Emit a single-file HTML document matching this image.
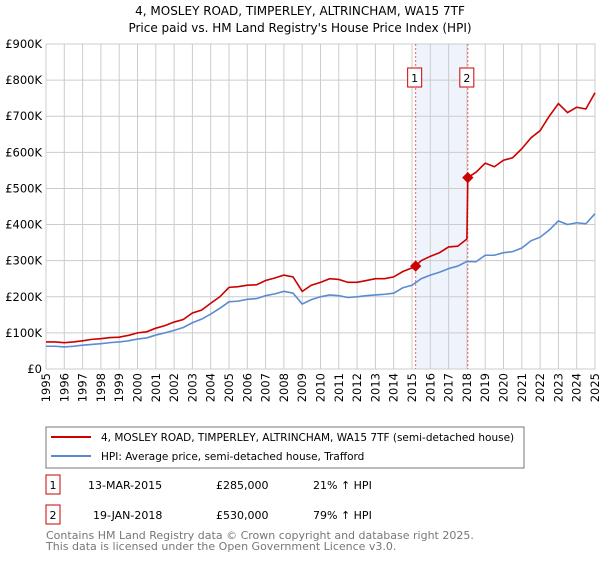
<!DOCTYPE html>
<html><head><meta charset="utf-8"><style>
body{margin:0;background:#fff;font-family:"Liberation Sans","DejaVu Sans",sans-serif;}
svg text{font-family:"DejaVu Sans","Liberation Sans",sans-serif;}
</style></head><body>
<svg id="c" width="600" height="560" xmlns="http://www.w3.org/2000/svg">
<text x="300" y="15" text-anchor="middle" font-size="12">4, MOSLEY ROAD, TIMPERLEY, ALTRINCHAM, WA15 7TF</text>
<text x="300" y="32" text-anchor="middle" font-size="12">Price paid vs. HM Land Registry's House Price Index (HPI)</text>
<g id="grid"></g><g id="marks"></g>
<rect x="46" y="427" width="478" height="41" fill="#fff" stroke="#777"/>
<line x1="51" y1="437" x2="91" y2="437" stroke="#cc0000" stroke-width="2"/>
<text x="101" y="441" font-size="10.5">4, MOSLEY ROAD, TIMPERLEY, ALTRINCHAM, WA15 7TF (semi-detached house)</text>
<line x1="51" y1="456" x2="91" y2="456" stroke="#5b8bd0" stroke-width="2"/>
<text x="101" y="460" font-size="10.5">HPI: Average price, semi-detached house, Trafford</text>
<rect x="46" y="475" width="14" height="19" fill="#fff" stroke="#cc0000"/>
<text x="53" y="489" text-anchor="middle" font-size="11">1</text>
<text x="88" y="489" font-size="11">13-MAR-2015</text>
<text x="216" y="489" font-size="11">£285,000</text>
<text x="313" y="489" font-size="11">21% ↑ HPI</text>
<rect x="46" y="505" width="14" height="19" fill="#fff" stroke="#cc0000"/>
<text x="53" y="519" text-anchor="middle" font-size="11">2</text>
<text x="93" y="519" font-size="11">19-JAN-2018</text>
<text x="216" y="519" font-size="11">£530,000</text>
<text x="313" y="519" font-size="11">79% ↑ HPI</text>
<text x="46" y="539" font-size="11" fill="#777">Contains HM Land Registry data © Crown copyright and database right 2025.</text>
<text x="46" y="550" font-size="11" fill="#777">This data is licensed under the Open Government Licence v3.0.</text>
</svg>
<script>
const yTicks=[0,100,200,300,400,500,600,700,800,900];
const yLabels=["£0","£100K","£200K","£300K","£400K","£500K","£600K","£700K","£800K","£900K"];
const years=[1995,1996,1997,1998,1999,2000,2001,2002,2003,2004,2005,2006,2007,2008,2009,2010,2011,2012,2013,2014,2015,2016,2017,2018,2019,2020,2021,2022,2023,2024,2025];
const hpiT=[1995,1995.5,1996,1996.5,1997,1997.5,1998,1998.5,1999,1999.5,2000,2000.5,2001,2001.5,2002,2002.5,2003,2003.5,2004,2004.5,2005,2005.5,2006,2006.5,2007,2007.5,2008,2008.5,2009,2009.5,2010,2010.5,2011,2011.5,2012,2012.5,2013,2013.5,2014,2014.5,2015,2015.5,2016,2016.5,2017,2017.5,2018,2018.5,2019,2019.5,2020,2020.5,2021,2021.5,2022,2022.5,2023,2023.5,2024,2024.5,2025];
const hpiV=[63,63,61,63,66,68,70,73,75,78,83,86,94,100,107,115,128,138,152,168,186,188,193,195,203,208,215,210,180,192,200,205,203,198,200,203,205,207,210,225,232,250,260,268,278,285,298,297,315,315,322,325,335,355,365,385,410,400,405,402,430];
const priceT=[1995,1995.5,1996,1996.5,1997,1997.5,1998,1998.5,1999,1999.5,2000,2000.5,2001,2001.5,2002,2002.5,2003,2003.5,2004,2004.5,2005,2005.5,2006,2006.5,2007,2007.5,2008,2008.5,2009,2009.5,2010,2010.5,2011,2011.5,2012,2012.5,2013,2013.5,2014,2014.5,2015,2015.2,2015.5,2016,2016.5,2017,2017.5,2018,2018.05,2018.5,2019,2019.5,2020,2020.5,2021,2021.5,2022,2022.5,2023,2023.5,2024,2024.5,2025];
const priceV=[75,75,73,75,78,82,84,87,88,93,100,103,113,120,130,137,155,163,182,200,226,228,232,233,245,252,260,255,215,232,240,250,248,240,240,245,250,250,255,270,280,285,300,312,322,338,340,360,530,545,570,560,578,585,610,640,660,700,735,710,725,720,765];
const saleT=[2015.2,2018.05];
const saleV=[285,530];
const saleLabels=["1","2"];
const L=46,R=595,T=44,B=369;
const x=t=>L+(t-1995)/30*(R-L);
const y=v=>B-v/900*(B-T);
const NS="http://www.w3.org/2000/svg";
const g=document.getElementById('grid'),m=document.getElementById('marks');
function mk(p,tag,a){const e=document.createElementNS(NS,tag);for(const k in a)e.setAttribute(k,a[k]);p.appendChild(e);return e;}
const band=mk(g,'rect',{x:x(saleT[0]),y:T,width:x(saleT[1])-x(saleT[0]),height:B-T,fill:'#eef3fc'});


yTicks.forEach((v,i)=>{
 const l=mk(g,'line',{x1:L,x2:R,y1:y(v),y2:y(v),stroke:'#ccc'});
 
 
 const t=mk(g,'text',{x:L-4,y:y(v)+4,'text-anchor':'end','font-size':'11.5'});t.textContent=yLabels[i];
 
 
});
years.forEach(yr=>{
 const l=mk(g,'line',{x1:x(yr),x2:x(yr),y1:T,y2:B,stroke:'#ccc'});
 
 
 const t=mk(g,'text',{x:0,y:0,'text-anchor':'end','font-size':'11.5',transform:`translate(${x(yr)+4},${B+4}) rotate(-90)`});t.textContent=yr;
 
 
});
mk(g,'rect',{x:L,y:T,width:R-L,height:B-T,fill:'none',stroke:'#ccc'});
saleT.forEach((t,i)=>{
 const l=mk(m,'line',{x1:x(t),x2:x(t),y1:T,y2:B,stroke:'#f06060','stroke-dasharray':'2,2'});
 
 
 const b=mk(m,'rect',{x:x(t)-8,y:68,width:14,height:19,fill:'#fff',stroke:'#cc0000'});
 
 
 const tx=mk(m,'text',{x:x(t)-1,y:82,'text-anchor':'middle','font-size':'11'});tx.textContent=saleLabels[i];
});
const hp=mk(m,'polyline',{points:hpiT.map((t,i)=>x(t)+','+y(hpiV[i])).join(' '),fill:'none',stroke:'#5b8bd0','stroke-width':1.6});


const pp=mk(m,'polyline',{points:priceT.map((t,i)=>x(t)+','+y(priceV[i])).join(' '),fill:'none',stroke:'#cc0000','stroke-width':1.6});


saleT.forEach((t,i)=>{
 const d=mk(m,'rect',{x:x(t)-4,y:y(saleV[i])-4,width:8,height:8,fill:'#cc0000',transform:`rotate(45 ${x(t)} ${y(saleV[i])})`});
 
 
});
</script>
</body></html>
